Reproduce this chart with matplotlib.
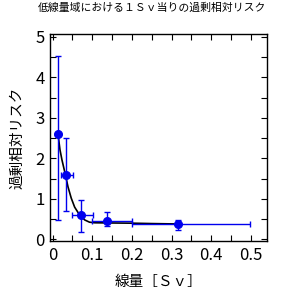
import numpy as np
import matplotlib.pyplot as plt

plt.rcParams['font.family'] = ['Noto Sans CJK JP', 'DejaVu Sans']

# 測定点（線量, 過剰相対リスク）
dosis = [0.013, 0.033, 0.071, 0.138, 0.317]
err = [2.6, 1.6, 0.6, 0.46, 0.38]
err_bajo = [0.48, 0.69, 0.17, 0.32, 0.22]
err_alto = [4.52, 2.5, 0.96, 0.67, 0.48]
dosis_min = [0.013, 0.021, 0.05, 0.1, 0.2]
dosis_max = [0.013, 0.052, 0.102, 0.2, 0.497]

# 当てはめ曲線（読み取り値）
curva_x = [0.0144, 0.0187, 0.0237, 0.032, 0.0388, 0.047, 0.0557, 0.068,
           0.081, 0.093, 0.106, 0.15, 0.2, 0.25, 0.317]
curva_y = [2.54, 2.21, 1.96, 1.61, 1.30, 1.02, 0.795, 0.605,
           0.48, 0.425, 0.41, 0.405, 0.40, 0.39, 0.38]

dosis = np.array(dosis)
err = np.array(err)
yerr = [err - np.array(err_bajo), np.array(err_alto) - err]
xerr = [dosis - np.array(dosis_min), np.array(dosis_max) - dosis]

fig = plt.figure(figsize=(2.85, 3.01), dpi=100)
ax = fig.add_axes([50 / 285, 1 - 241 / 301, 216.7 / 285, 207 / 301])

ax.plot(curva_x, curva_y, color='black', lw=1.2, zorder=2)
ax.errorbar(dosis, err, yerr=yerr, xerr=xerr, fmt='o', color='#0000ee',
            ms=5.5, elinewidth=1, capsize=2.2, capthick=1, zorder=3)

ax.set_xlim(-0.0065, 0.54)
ax.set_ylim(-0.04, 5.07)
ax.set_xticks([0, 0.1, 0.2, 0.3, 0.4, 0.5])
ax.set_xticklabels(['0', '0.1', '0.2', '0.3', '0.4', '0.5'])
ax.set_xticks(np.arange(0.05, 0.54, 0.1), minor=True)
ax.set_yticks([0, 1, 2, 3, 4, 5])
ax.set_yticks([0.5, 1.5, 2.5, 3.5, 4.5], minor=True)
ax.tick_params(which='both', direction='in', top=True, right=True,
               length=4, width=0.8, labelsize=12, pad=4)
for s in ax.spines.values():
    s.set_linewidth(1)

ax.set_xlabel('線量［Ｓｖ］', fontsize=10.5, labelpad=8)
ax.set_ylabel('過剰相対リスク', fontsize=10.5, labelpad=8)
fig.text(152 / 285, 1 - 8 / 301, '低線量域における１Ｓｖ当りの過剰相対リスク',
         fontsize=7.8, ha='center', va='center')

fig.savefig('out.png', dpi=100)
